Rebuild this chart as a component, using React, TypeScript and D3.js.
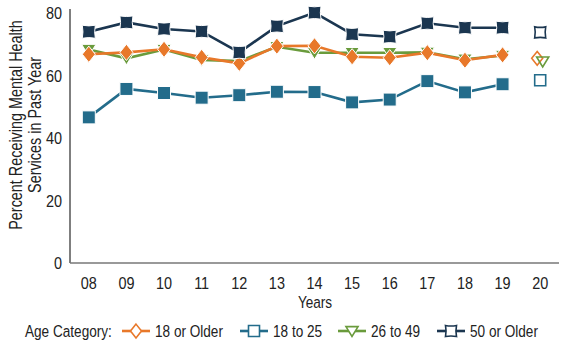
import React from "react";
import * as d3 from "d3";

const years = ["08", "09", "10", "11", "12", "13", "14", "15", "16", "17", "18", "19", "20"];
const yTicks = [0, 20, 40, 60, 80];
const older18 = [66.8, 67.4, 68.4, 65.8, 63.9, 69.4, 69.5, 66.0, 65.7, 67.3, 64.9, 66.6, 65.5];
const age18to25 = [46.6, 55.7, 54.4, 52.9, 53.7, 54.8, 54.7, 51.4, 52.3, 58.2, 54.6, 57.2, 58.5];
const age26to49 = [68.3, 65.5, 68.3, 65.0, 64.6, 69.2, 67.3, 67.3, 67.3, 67.4, 65.2, 66.4, 64.5];
const older50 = [74.0, 77.0, 74.9, 74.1, 67.4, 75.8, 80.1, 73.2, 72.4, 76.7, 75.3, 75.3, 73.8];
const seriesNames = ["18 or Older", "18 to 25", "26 to 49", "50 or Older"];

const W = 566, H = 344;
const FONT = "'Liberation Sans', Arial, sans-serif";
const colors = ["#E8782A", "#236C8B", "#6A9B3C", "#1B3650"];
const shapes = ["diamond", "square", "triangle", "pinch"];
const dodge = [-3, 0, 2.5, 0];
const SX = 0.8;

function markerPath(shape: string, r: number) {
  if (shape === "diamond") return `M0,${-r * 1.25}L${r},0L0,${r * 1.25}L${-r},0Z`;
  if (shape === "square") return `M${-r},${-r}H${r}V${r}H${-r}Z`;
  if (shape === "triangle") return `M${-r * 1.1},${-r * 0.8}H${r * 1.1}L0,${r * 1.0}Z`;
  const k = r * 0.8;
  return `M${-r},${-r}Q0,${-k} ${r},${-r}Q${k},0 ${r},${r}Q0,${k} ${-r},${r}Q${-k},0 ${-r},${-r}Z`;
}

function T({ x, y, anchor = "start", rotate = 0, size = 17, sx = SX, children }: any) {
  return (
    <text
      transform={`translate(${x},${y}) rotate(${rotate}) scale(${sx},1)`}
      textAnchor={anchor}
      dy="0.36em"
      fontSize={size}
      fill="#222"
    >
      {children}
    </text>
  );
}

export default function App() {
  const x = d3.scaleBand().domain(years).range([70, 559]);
  const y = d3.scaleLinear().domain([0, 80]).range([263, 13]);
  const cx = (yr: string) => (x(yr) as number) + x.bandwidth() / 2;
  const data = [older18, age18to25, age26to49, older50];
  const line = d3.line<number>().x((_, i) => cx(years[i])).y((v) => y(v));
  const legendX = [136, 254, 352, 451];
  const drawOrder = [1, 2, 0, 3];
  const lastOrder = [1, 3, 0, 2];
  return (
    <svg width={W} height={H} style={{ position: "absolute", left: 0, top: 0, background: "#fff" }} fontFamily={FONT}>
      <line x1={70} x2={70} y1={9} y2={263} stroke="#555" strokeWidth={1.5} />
      <line x1={70} x2={559} y1={263} y2={263} stroke="#777" strokeWidth={1.5} />
      {yTicks.map((t) => (
        <T key={t} x={62} y={y(t)} anchor="end" sx={0.85}>{t}</T>
      ))}
      {years.map((yr) => (
        <T key={yr} x={cx(yr)} y={283} anchor="middle" sx={0.85}>{yr}</T>
      ))}
      <T x={315} y={302} anchor="middle">Years</T>
      <T x={16} y={125} anchor="middle" rotate={-90} size={18}>Percent Receiving Mental Health</T>
      <T x={35} y={125} anchor="middle" rotate={-90} size={18}>Services in Past Year</T>
      {drawOrder.map((si) => {
        const vals = data[si];
        const conn = vals.slice(0, 12);
        return (
          <g key={si}>
            <path d={line(conn) as string} fill="none" stroke={colors[si]} strokeWidth={2.6} />
            {conn.map((v, i) => (
              <path key={i} d={markerPath(shapes[si], 6.5)} transform={`translate(${cx(years[i])},${y(v)})`} fill={colors[si]} stroke="#fff" strokeWidth={1} />
            ))}
          </g>
        );
      })}
      {lastOrder.map((si) => (
        <path key={"l" + si} d={markerPath(shapes[si], 5.5)} transform={`translate(${cx(years[12]) + dodge[si]},${y(data[si][12])})`} fill={si === 2 ? "none" : "#fff"} stroke={colors[si]} strokeWidth={1.6} />
      ))}
      <T x={25} y={331}>Age Category:</T>
      {seriesNames.map((n, i) => (
        <g key={n}>
          <line x1={legendX[i] - 14} x2={legendX[i] + 14} y1={331} y2={331} stroke={colors[i]} strokeWidth={2.6} />
          <path d={markerPath(shapes[i], 5.5)} transform={`translate(${legendX[i]},331)`} fill="#fff" stroke={colors[i]} strokeWidth={1.6} />
          <T x={legendX[i] + 19} y={331}>{n}</T>
        </g>
      ))}
    </svg>
  );
}
